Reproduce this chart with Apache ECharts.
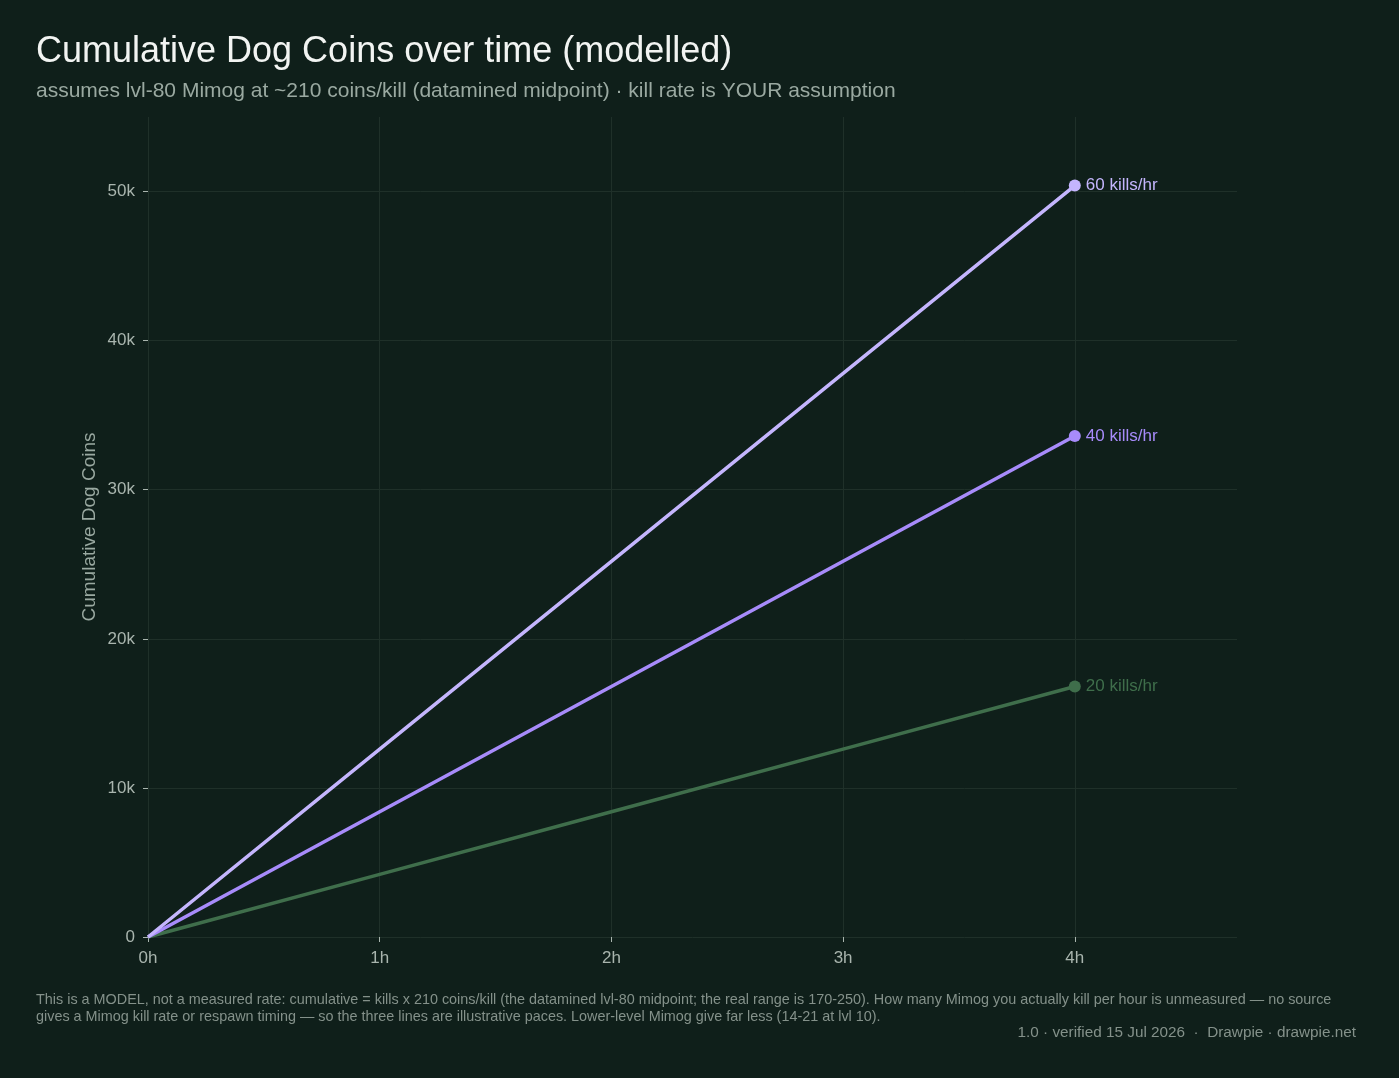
<!DOCTYPE html>
<html>
<head>
<meta charset="utf-8">
<script src="https://cdn.jsdelivr.net/npm/echarts@6/dist/echarts.min.js"></script>
<style>
  html, body { margin: 0; padding: 0; background: #0f1f1a; }
  #chart { width: 1399px; height: 1078px; }
</style>
</head>
<body>
<div id="chart"></div>
<script>
const hours = [0, 1, 2, 3, 4]
const xTickLabels = ['0h', '1h', '2h', '3h', '4h']
const yTicks = [0, 10000, 20000, 30000, 40000, 50000]
const yTickLabels = ['0', '10k', '20k', '30k', '40k', '50k']
const pace60 = [0, 12600, 25200, 37800, 50400]
const pace40 = [0, 8400, 16800, 25200, 33600]
const pace20 = [0, 4200, 8400, 12600, 16800]
const seriesNames = ['60 kills/hr', '40 kills/hr', '20 kills/hr']
const seriesColors = ['#c4b5fd', '#a78bfa', '#3f6e4b']

const FONT = '"Liberation Sans", Arial, sans-serif'
const GRID = '#1f3029'

function makeSeries(name, values, color) {
  const data = values.map((v, i) => {
    const item = { value: [hours[i], v] }
    if (i === values.length - 1) {
      item.symbol = 'circle'
      item.symbolSize = 12
      item.label = {
        show: true,
        position: 'right',
        distance: 5,
        formatter: name,
        color: color,
        fontSize: 17,
        fontFamily: FONT
      }
    }
    return item
  })
  return {
    name: name,
    type: 'line',
    data: data,
    symbol: 'none',
    lineStyle: { color: color, width: 3.5 },
    itemStyle: { color: color },
    animation: false,
    z: 3
  }
}

const chart = echarts.init(document.getElementById('chart'))
chart.setOption({
  backgroundColor: '#0f1f1a',
  textStyle: { fontFamily: FONT },
  title: {
    text: 'Cumulative Dog Coins over time (modelled)',
    subtext: 'assumes lvl-80 Mimog at ~210 coins/kill (datamined midpoint) · kill rate is YOUR assumption',
    left: 31,
    top: 29,
    itemGap: 11,
    textStyle: { color: '#f2f4f2', fontSize: 36, fontWeight: 'normal', fontFamily: FONT },
    subtextStyle: { color: '#9aa9a1', fontSize: 21, fontFamily: FONT }
  },
  grid: { left: 148, right: 162, top: 117, bottom: 141 },
  xAxis: {
    type: 'value',
    min: 0,
    max: 4.7,
    interval: 1,
    axisLine: { show: false },
    axisTick: { show: true, length: 5, customValues: hours, lineStyle: { color: '#a9b5ae' } },
    axisLabel: {
      color: '#a9b5ae',
      fontSize: 17,
      margin: 13,
      customValues: hours,
      formatter: v => xTickLabels[hours.indexOf(v)] || ''
    },
    splitLine: { show: true, lineStyle: { color: [GRID, GRID, GRID, GRID, GRID, 'rgba(0,0,0,0)'], width: 1 } }
  },
  yAxis: {
    type: 'value',
    min: 0,
    max: 55000,
    interval: 10000,
    name: 'Cumulative Dog Coins',
    nameLocation: 'middle',
    nameGap: 49,
    nameMoveOverlap: false,
    nameTextStyle: { color: '#9aa9a1', fontSize: 19 },
    axisLine: { show: false },
    axisTick: { show: true, length: 5, customValues: yTicks, lineStyle: { color: '#a9b5ae' } },
    axisLabel: {
      color: '#a9b5ae',
      fontSize: 17,
      margin: 13,
      customValues: yTicks,
      formatter: v => yTickLabels[yTicks.indexOf(v)] || ''
    },
    splitLine: { show: true, lineStyle: { color: [GRID, GRID, GRID, GRID, GRID, GRID, 'rgba(0,0,0,0)'], width: 1 } }
  },
  series: [
    makeSeries(seriesNames[2], pace20, seriesColors[2]),
    makeSeries(seriesNames[1], pace40, seriesColors[1]),
    makeSeries(seriesNames[0], pace60, seriesColors[0])
  ],
  graphic: [
    {
      type: 'text',
      left: 36,
      top: 992,
      style: {
        text: 'This is a MODEL, not a measured rate: cumulative = kills x 210 coins/kill (the datamined lvl-80 midpoint; the real range is 170-250). How many Mimog you actually kill per hour is unmeasured — no source\ngives a Mimog kill rate or respawn timing — so the three lines are illustrative paces. Lower-level Mimog give far less (14-21 at lvl 10).',
        fill: '#84918a',
        fontSize: 14.4,
        lineHeight: 17,
        fontFamily: FONT
      }
    },
    {
      type: 'text',
      right: 43,
      top: 1025,
      style: {
        text: '1.0 · verified 15 Jul 2026  ·  Drawpie · drawpie.net',
        fill: '#84918a',
        fontSize: 15.3,
        fontFamily: FONT
      }
    }
  ]
})
</script>
</body>
</html>
